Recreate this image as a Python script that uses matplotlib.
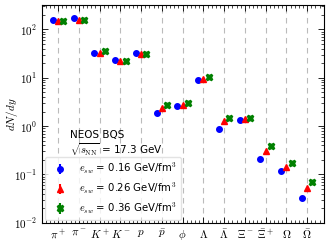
import numpy as np
import matplotlib.pyplot as plt
from matplotlib.ticker import MultipleLocator, FuncFormatter

plt.rcParams['mathtext.fontset'] = 'cm'

particles = [r'$\pi^+$', r'$\pi^-$', r'$K^+$', r'$K^-$', r'$p$', r'$\bar{p}$', r'$\phi$',
             r'$\Lambda$', r'$\bar{\Lambda}$', r'$\Xi^-$', r'$\bar{\Xi}^+$', r'$\Omega$', r'$\bar{\Omega}$']
e016 = [160, 170, 33, 23, 32, 1.85, 2.55, 8.8, 0.89, 1.35, 0.21, 0.12, 0.032]
e026 = [150, 160, 33, 22, 31, 2.35, 2.8, 9.6, 1.3, 1.42, 0.31, 0.145, 0.053]
e036 = [150, 160, 35, 22, 31, 2.7, 2.95, 10.2, 1.45, 1.5, 0.38, 0.17, 0.07]
labels = [r'$e_{sw}$ = 0.16 GeV/fm$^3$', r'$e_{sw}$ = 0.26 GeV/fm$^3$', r'$e_{sw}$ = 0.36 GeV/fm$^3$']

x = np.arange(len(particles))
fig, ax = plt.subplots(figsize=(3.32, 2.49), dpi=100)
for xi in x:
    ax.axvline(xi, color='#bbbbbb', ls=(0, (5, 4)), lw=0.8, zorder=0)
ax.errorbar(x - 0.25, e016, yerr=0.0, fmt='o', color='blue', ms=4, label=labels[0])
ax.errorbar(x, e026, yerr=0.0, fmt='^', color='red', ms=4, label=labels[1])
ax.errorbar(x + 0.25, e036, yerr=0.0, fmt='X', color='green', ms=4.5, label=labels[2])
ax.set_yscale('log')
ax.set_ylim(1e-2, 3.2e2)
ax.yaxis.set_major_formatter(FuncFormatter(lambda v, p: r'$10^{%d}$' % round(np.log10(v))))
ax.set_xlim(-0.8, 12.8)
ax.set_xticks(x)
ax.set_xticklabels(particles, fontsize=8)
ax.xaxis.set_minor_locator(MultipleLocator(0.2))
ax.tick_params(which='both', direction='in', top=True, right=True, labelsize=8)
ax.tick_params(which='major', length=4, width=0.6)
ax.tick_params(which='minor', length=2, width=0.5)
ax.set_ylabel(r'$dN/dy$', fontsize=8)
ax.yaxis.set_label_coords(-0.075, 0.5)
ax.text(0.1, 0.39, 'NEOS BQS', transform=ax.transAxes, fontsize=7.5)
ax.text(0.1, 0.315, r'$\sqrt{s_{\rm NN}}$ = 17.3 GeV', transform=ax.transAxes, fontsize=7.5)
ax.legend(loc='lower left', fontsize=7.3, frameon=True, framealpha=0.8, edgecolor='#dddddd',
          handlelength=2.2, borderaxespad=0.3, labelspacing=0.45, borderpad=0.4)
for s in ax.spines.values():
    s.set_linewidth(0.8)
plt.subplots_adjust(left=0.125, right=0.975, top=0.98, bottom=0.105)
plt.savefig('out.png', dpi=100)
